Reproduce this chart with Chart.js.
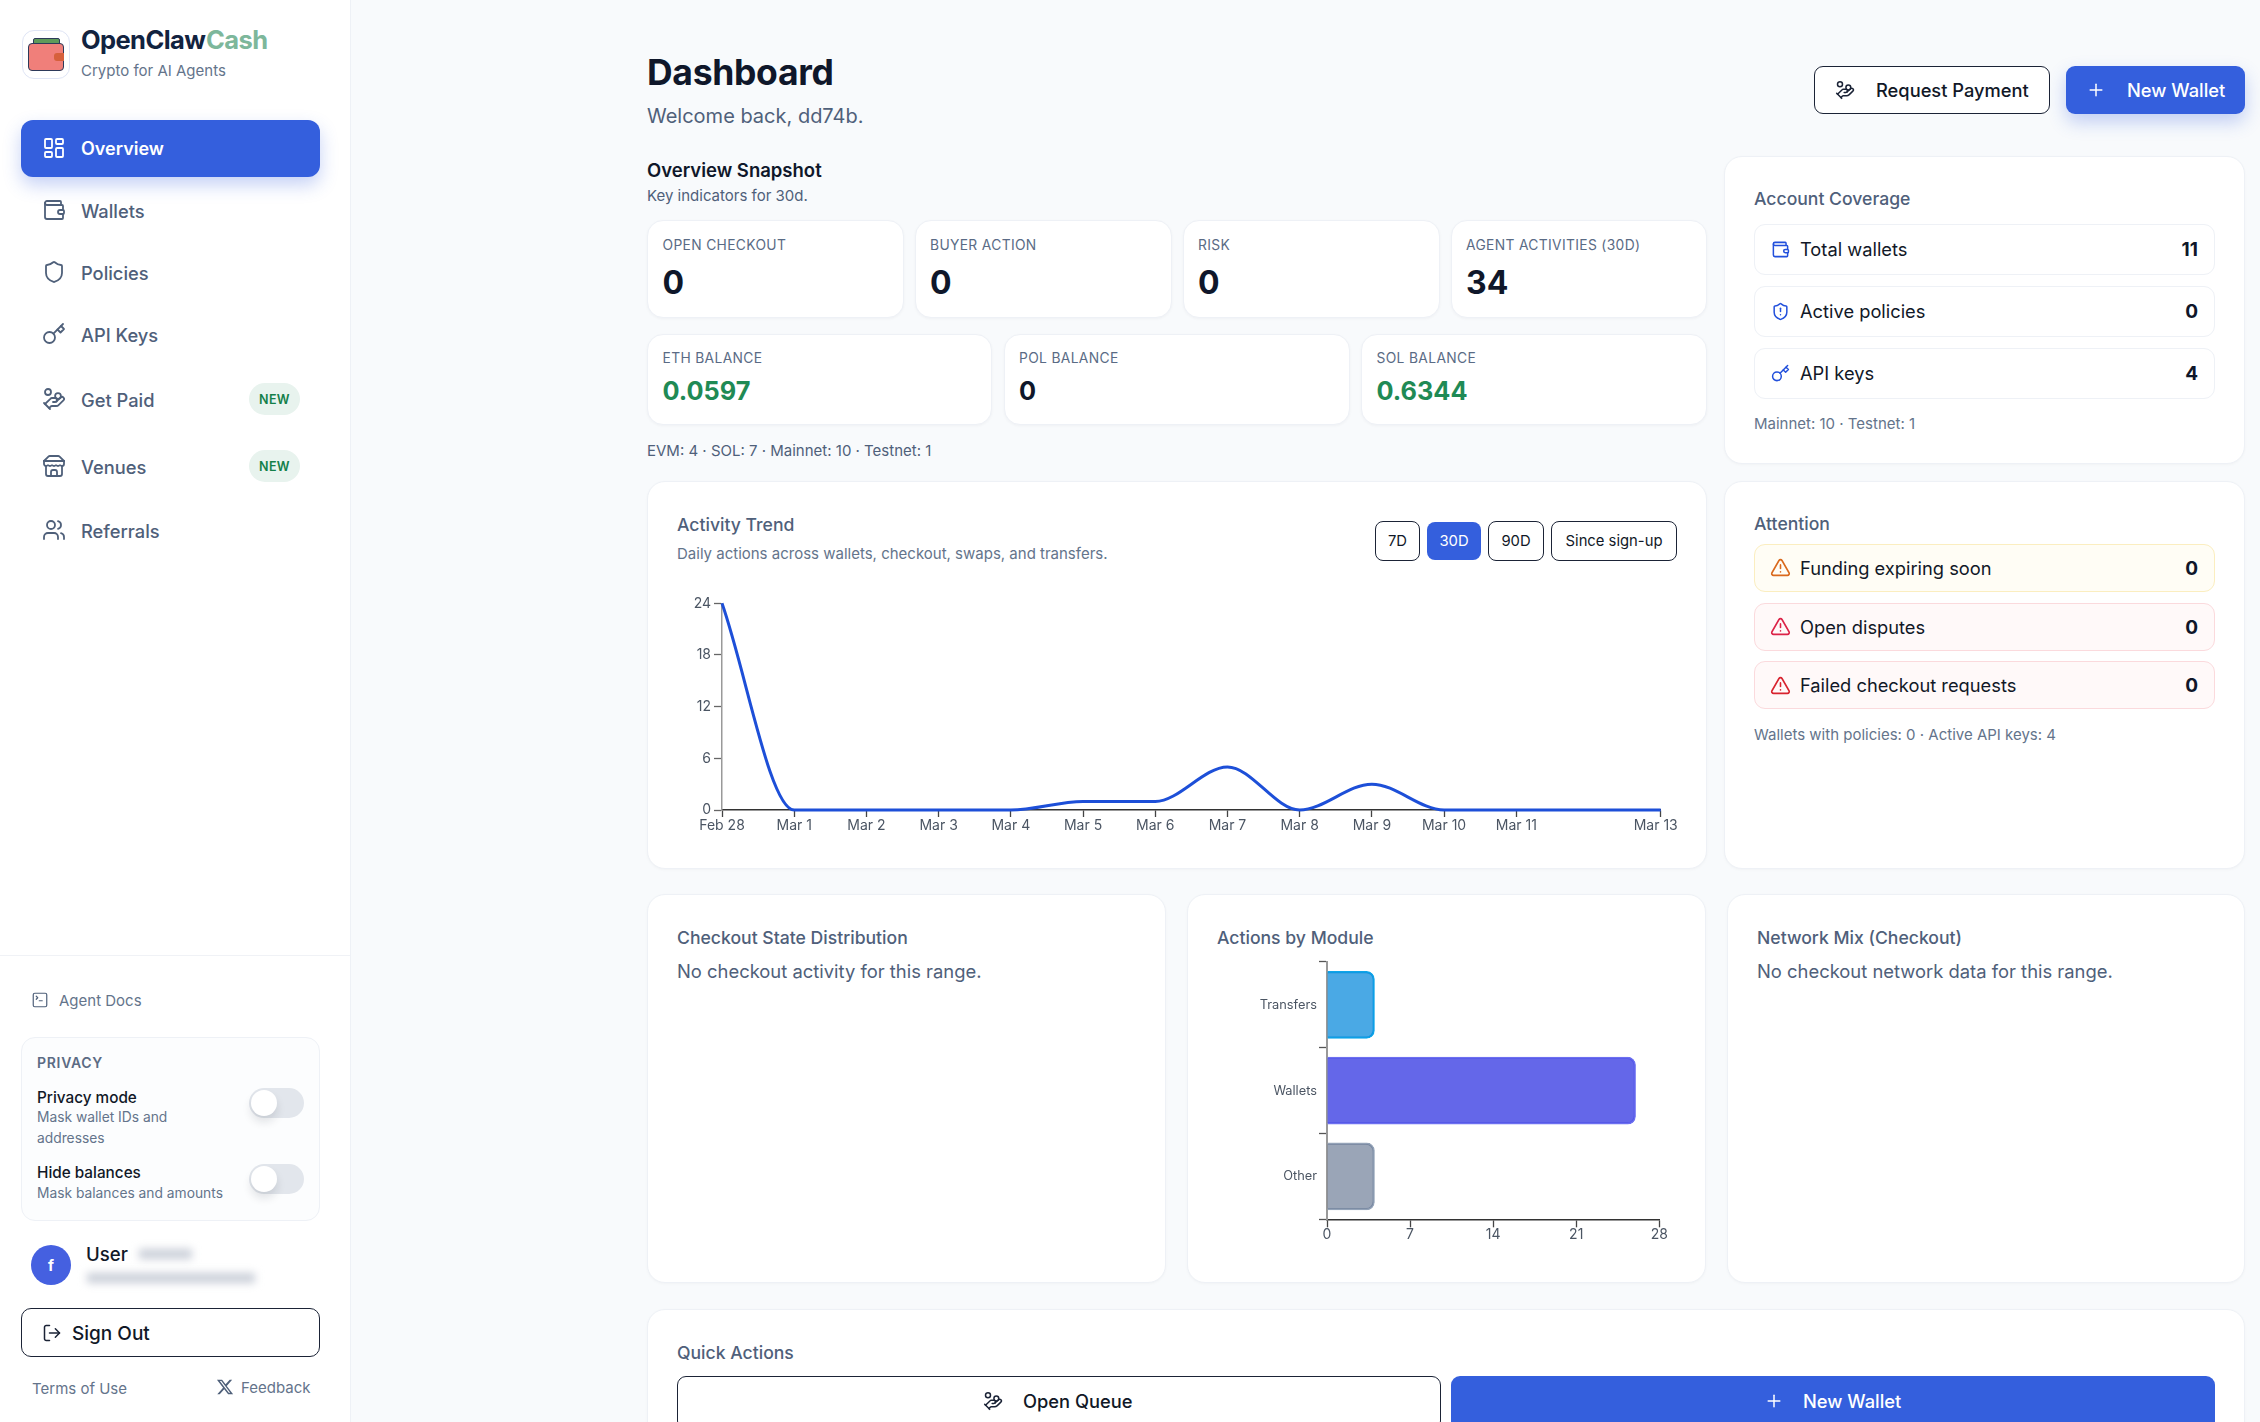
<!DOCTYPE html>
<html lang="en">
<head>
<meta charset="utf-8">
<title>OpenClawCash Dashboard</title>
<script src="https://cdn.jsdelivr.net/npm/chart.js@4"></script>
<style>
  html, body { margin: 0; width: 2260px; height: 1422px; overflow: hidden; background: #f8fafc; font-family: Inter, "Noto Sans", sans-serif; color: #0f172a; }
  #root { position: relative; width: 2260px; height: 1422px; overflow: hidden; }
  .box { position: absolute; box-sizing: border-box; }
  .txt { position: absolute; white-space: nowrap; line-height: 1; transform: translateY(-50%); }
  .card { background: #fff; border: 1.5px solid #eef1f6; border-radius: 18px; box-shadow: 0 1px 3px rgba(15,23,42,.03); }
  .tile { background: #fff; border: 1.5px solid #eef1f6; border-radius: 16px; box-shadow: 0 1px 3px rgba(15,23,42,.04); }
  svg.ic { position: absolute; fill: none; stroke-width: 2; stroke-linecap: round; stroke-linejoin: round; }
  canvas { position: absolute; }
</style>
</head>
<body>
<div id="root"></div>
<script>
// Activity Trend
const trendDays   = [0, 1, 2, 3, 4, 5, 6, 7, 8, 9, 10, 11, 13];
const trendValues = [24, 0, 0, 0, 0, 1, 1, 5, 0, 3, 0, 0, 0];
const trendLabels = ['Feb 28', 'Mar 1', 'Mar 2', 'Mar 3', 'Mar 4', 'Mar 5', 'Mar 6', 'Mar 7', 'Mar 8', 'Mar 9', 'Mar 10', 'Mar 11', 'Mar 13'];
const trendYTicks = [0, 6, 12, 18, 24];

// Actions by Module
const moduleNames  = ['Transfers', 'Wallets', 'Other'];
const moduleValues = [4, 26, 4];
const moduleXTicks = [0, 7, 14, 21, 28];

const ICONS = {
  dash: '<rect x="3" y="3" width="7" height="9" rx="1"/><rect x="14" y="3" width="7" height="5" rx="1"/><rect x="14" y="12" width="7" height="9" rx="1"/><rect x="3" y="16" width="7" height="5" rx="1"/>',
  wallet: '<path d="M19 7V4a1 1 0 0 0-1-1H5a2 2 0 0 0 0 4h15a1 1 0 0 1 1 1v4h-3a2 2 0 0 0 0 4h3a1 1 0 0 0 1-1v-2a1 1 0 0 0-1-1"/><path d="M3 5v14a2 2 0 0 0 2 2h15a1 1 0 0 0 1-1v-4"/>',
  shield: '<path d="M20 13c0 5-3.5 7.5-7.66 8.95a1 1 0 0 1-.67-.01C7.5 20.5 4 18 4 13V6a1 1 0 0 1 1-1c2 0 4.5-1.2 6.24-2.72a1.17 1.17 0 0 1 1.52 0C14.51 3.81 17 5 19 5a1 1 0 0 1 1 1z"/>',
  shieldAlert: '<path d="M20 13c0 5-3.5 7.5-7.66 8.95a1 1 0 0 1-.67-.01C7.5 20.5 4 18 4 13V6a1 1 0 0 1 1-1c2 0 4.5-1.2 6.24-2.72a1.17 1.17 0 0 1 1.52 0C14.51 3.81 17 5 19 5a1 1 0 0 1 1 1z"/><path d="M12 8v4"/><path d="M12 16h.01"/>',
  key: '<circle cx="7.5" cy="15.5" r="5.5"/><path d="m21 2-9.6 9.6"/><path d="m15.5 7.5 3 3L22 7l-3-3"/>',
  coins: '<path d="M11 15h2a2 2 0 1 0 0-4h-3c-.6 0-1.1.2-1.4.6L3 17"/><path d="m7 21 1.6-1.4c.3-.4.8-.6 1.4-.6h4c1.1 0 2.1-.4 2.8-1.2l4.6-4.4a2 2 0 0 0-2.75-2.91l-4.2 3.9"/><path d="m2 16 6 6"/><circle cx="16" cy="9" r="2.9"/><circle cx="6" cy="5" r="3"/>',
  store: '<path d="m2 7 4.41-4.41A2 2 0 0 1 7.83 2h8.34a2 2 0 0 1 1.42.59L22 7"/><path d="M4 12v8a2 2 0 0 0 2 2h12a2 2 0 0 0 2-2v-8"/><path d="M15 22v-4a2 2 0 0 0-2-2h-2a2 2 0 0 0-2 2v4"/><path d="M2 7h20"/><path d="M22 7v3a2 2 0 0 1-2 2a2.7 2.7 0 0 1-1.59-.63.7.7 0 0 0-.82 0A2.7 2.7 0 0 1 16 12a2.7 2.7 0 0 1-1.59-.63.7.7 0 0 0-.82 0A2.7 2.7 0 0 1 12 12a2.7 2.7 0 0 1-1.59-.63.7.7 0 0 0-.82 0A2.7 2.7 0 0 1 8 12a2.7 2.7 0 0 1-1.59-.63.7.7 0 0 0-.82 0A2.7 2.7 0 0 1 4 12a2 2 0 0 1-2-2V7"/>',
  users: '<path d="M16 21v-2a4 4 0 0 0-4-4H6a4 4 0 0 0-4 4v2"/><circle cx="9" cy="7" r="4"/><path d="M22 21v-2a4 4 0 0 0-3-3.87"/><path d="M16 3.13a4 4 0 0 1 0 7.75"/>',
  term: '<path d="m7 11 2-2-2-2"/><path d="M11 13h4"/><rect x="3" y="3" width="18" height="18" rx="2"/>',
  logout: '<path d="M9 21H5a2 2 0 0 1-2-2V5a2 2 0 0 1 2-2h4"/><path d="m16 17 5-5-5-5"/><path d="M21 12H9"/>',
  plus: '<path d="M5 12h14"/><path d="M12 5v14"/>',
  warn: '<path d="m21.73 18-8-14a2 2 0 0 0-3.48 0l-8 14A2 2 0 0 0 4 21h16a2 2 0 0 0 1.73-3"/><path d="M12 9v4"/><path d="M12 17h.01"/>',
};

const root = document.getElementById('root');

/** Caja absoluta: coordenadas de los bordes (x0,y0)-(x1,y1). */
function box(x0, y0, x1, y1, cls, css) {
  const el = document.createElement('div');
  el.className = 'box ' + (cls || '');
  el.style.cssText = `left:${x0}px;top:${y0}px;width:${x1 - x0}px;height:${y1 - y0}px;${css || ''}`;
  root.appendChild(el);
  return el;
}

/** Texto con anclaje a la izquierda (o a la derecha con right:true), centrado en yc. */
function text(x, yc, str, size, color, weight, extra, right) {
  const el = document.createElement('div');
  el.className = 'txt';
  el.textContent = str;
  const pos = right ? `right:${2260 - x}px` : `left:${x}px`;
  el.style.cssText = `${pos};top:${yc}px;font-size:${size}px;color:${color};font-weight:${weight || 400};${extra || ''}`;
  root.appendChild(el);
  return el;
}

function icon(name, cx, cy, size, color, sw) {
  const s = document.createElementNS('http://www.w3.org/2000/svg', 'svg');
  s.setAttribute('viewBox', '0 0 24 24');
  s.setAttribute('class', 'ic');
  s.style.cssText = `left:${cx - size / 2}px;top:${cy - size / 2}px;width:${size}px;height:${size}px;stroke:${color};stroke-width:${sw || 2}`;
  s.innerHTML = ICONS[name];
  root.appendChild(s);
}

const SLATE = '#4f607a', MUTED = '#64748b', INK = '#111827', BLUE = '#345fdd';

// ---- Sidebar ----
box(0, 0, 351, 1422, '', 'background:#fff;border-right:1.5px solid #eef1f6');
box(0, 955, 350, 956, '', 'background:#f0f2f6');

// Logo
box(22, 30, 70, 79, '', 'background:#fff;border:1.5px solid #dfe5f5;border-radius:12px');
box(33, 38, 60, 50, '', 'background:#5f9a5a;border:1.5px solid #2d3a5a;border-radius:2px');
box(28, 43, 64, 71, '', 'background:#f07f7a;border:1.5px solid #2d3a5a;border-radius:4px');
box(54, 53, 64, 61, '', 'background:#d6603c;border-radius:3px 0 0 3px');
text(81, 40, 'OpenClaw', 25.5, '#12233f', 700, 'letter-spacing:-.6px');
text(206, 40, 'Cash', 25.5, '#7db79b', 700, 'letter-spacing:-.6px');
text(81, 70, 'Crypto for AI Agents', 15, MUTED, 400);

box(21, 120, 320, 177, '', `background:${BLUE};border-radius:12px;box-shadow:0 8px 18px rgba(52,95,221,.28)`);
icon('dash', 54, 148, 24, '#fff', 1.8);
text(81, 148.5, 'Overview', 18, '#fff', 600);

[['wallet', 'Wallets', 210], ['shield', 'Policies', 272], ['key', 'API Keys', 334], ['coins', 'Get Paid', 399], ['store', 'Venues', 466], ['users', 'Referrals', 530]]
  .forEach(([ic, label, y]) => {
    icon(ic, 54, y, 24, '#4f607a', 1.8);
    text(81, y + 0.5, label, 18.3, SLATE, 500);
  });
[399, 466].forEach((y) => {
  box(249, y - 16, 300, y + 16, '', 'background:#e8f3ee;border-radius:16px');
  text(274.5, y + 1, 'NEW', 12.5, '#14804a', 600, 'transform:translate(-50%,-50%);letter-spacing:.4px');
});

icon('term', 39.5, 1000, 18, '#4f607a', 1.6);
text(59, 1000, 'Agent Docs', 15, MUTED, 400);

box(21, 1037, 320, 1221, '', 'background:#fcfdfe;border:1.5px solid #eef1f6;border-radius:14px');
text(37, 1063, 'PRIVACY', 14, '#5b6b84', 600, 'letter-spacing:.7px');
text(37, 1098, 'Privacy mode', 15.3, INK, 500);
text(37, 1118, 'Mask wallet IDs and', 13.8, MUTED, 400);
text(37, 1139, 'addresses', 13.8, MUTED, 400);
text(37, 1173, 'Hide balances', 15.3, INK, 500);
text(37, 1194, 'Mask balances and amounts', 13.8, MUTED, 400);
[1088, 1164].forEach((y) => {
  box(249, y, 304, y + 30, '', 'background:#e2e6ec;border-radius:15px');
  box(251, y + 2, 277, y + 28, '', 'background:#fff;border-radius:50%;box-shadow:0 6px 10px rgba(15,23,42,.12)');
});

box(31, 1245, 71, 1285, '', 'background:#4560e0;border-radius:50%');
text(51, 1265, 'f', 15, '#fff', 700, 'transform:translate(-50%,-50%)');
text(86, 1254, 'User', 18.6, INK, 500);
// Datos personales difuminados en la captura
box(139, 1249, 192, 1259, '', 'background:#c9ced8;filter:blur(4px)');
box(87, 1273, 255, 1283, '', 'background:#c9ced8;filter:blur(4px)');

box(21, 1308, 320, 1357, '', 'background:#fff;border:1.5px solid #1b2336;border-radius:10px');
icon('logout', 52, 1333, 20, '#1b2336', 1.8);
text(72, 1333, 'Sign Out', 19, INK, 500);
text(32, 1388, 'Terms of Use', 15, MUTED, 400);
const xLogo = document.createElementNS('http://www.w3.org/2000/svg', 'svg');
xLogo.setAttribute('viewBox', '0 0 24 24');
xLogo.style.cssText = 'position:absolute;left:216px;top:1378px;width:18px;height:18px;fill:#4f607a';
xLogo.innerHTML = '<path d="M18.244 2.25h3.308l-7.227 8.26 8.502 11.24H16.17l-5.214-6.817L4.99 21.75H1.68l7.73-8.835L1.254 2.25H8.08l4.713 6.231zm-1.161 17.52h1.833L7.084 4.126H5.117z"/>';
root.appendChild(xLogo);
text(241, 1387, 'Feedback', 15, MUTED, 400);

// ---- Header ----
text(647, 73, 'Dashboard', 35.5, '#0f172a', 700, 'letter-spacing:-.3px');
text(647, 115.5, 'Welcome back, dd74b.', 20, SLATE, 400);
box(1814, 66, 2050, 114, '', 'background:#fff;border:1.5px solid #1b2336;border-radius:9px');
icon('coins', 1845, 90, 20, '#1b2336', 1.8);
text(1876, 90, 'Request Payment', 18.3, INK, 500);
box(2066, 66, 2245, 114, '', `background:${BLUE};border-radius:9px;box-shadow:0 8px 18px rgba(52,95,221,.28)`);
icon('plus', 2096, 90, 20, '#fff', 1.8);
text(2127, 90, 'New Wallet', 18.3, '#fff', 500);

// ---- Overview Snapshot ----
text(647, 170, 'Overview Snapshot', 18.5, '#0f172a', 600);
text(647, 195, 'Key indicators for 30d.', 15, SLATE, 400);
[[647, 903.5, 'OPEN CHECKOUT', '0'], [914.5, 1172, 'BUYER ACTION', '0'], [1182.5, 1440, 'RISK', '0'], [1450.5, 1707, 'AGENT ACTIVITIES (30D)', '34']]
  .forEach(([x0, x1, label, val]) => {
    box(x0, 220, x1, 317.5, 'tile');
    text(x0 + 15.5, 246, label, 13.8, '#5a6b85', 400, 'letter-spacing:.35px');
    text(x0 + 15.5, 283, val, 32, '#0f172a', 700);
  });
[[647, 992, 'ETH BALANCE', '0.0597', '#1f8a55'], [1003.5, 1350, 'POL BALANCE', '0', '#0f172a'], [1361, 1707, 'SOL BALANCE', '0.6344', '#1f8a55']]
  .forEach(([x0, x1, label, val, col]) => {
    box(x0, 333.5, x1, 424.5, 'tile');
    text(x0 + 15.5, 359, label, 13.8, '#5a6b85', 400, 'letter-spacing:.35px');
    text(x0 + 15.5, 391, val, 25.3, col, 700);
  });
text(647, 450, 'EVM: 4 · SOL: 7 · Mainnet: 10 · Testnet: 1', 15, SLATE, 400);

// ---- Account Coverage ----
box(1723.5, 155.5, 2245, 464, 'card');
text(1754, 199, 'Account Coverage', 17.6, SLATE, 500);
[['wallet', 'Total wallets', '11', 223.5], ['shieldAlert', 'Active policies', '0', 285.5], ['key', 'API keys', '4', 347.5]]
  .forEach(([ic, label, val, y]) => {
    box(1754, y, 2215, y + 51, '', 'background:#fff;border:1.5px solid #eef1f6;border-radius:11px');
    icon(ic, 1780, y + 25.5, 19, '#2250dc', 1.9);
    text(1800, y + 25.5, label, 18.3, INK, 400);
    text(2198, y + 25.5, val, 19, '#0f172a', 700, '', true);
  });
text(1754, 423, 'Mainnet: 10 · Testnet: 1', 15, MUTED, 400);

// ---- Attention ----
box(1723.5, 481, 2245, 869, 'card');
text(1754, 524, 'Attention', 17.6, SLATE, 500);
[['Funding expiring soon', 543.5, '#fffdf5', '#fbeec0', '#d9691c'], ['Open disputes', 602.5, '#fff9f9', '#fbdadd', '#dc2348'], ['Failed checkout requests', 661, '#fff9f9', '#fbdadd', '#d8232f']]
  .forEach(([label, y, bg, border, col]) => {
    box(1754, y, 2215, y + 48, '', `background:${bg};border:1.5px solid ${border};border-radius:11px`);
    icon('warn', 1780, y + 24, 21, col, 1.8);
    text(1800, y + 24, label, 18.3, INK, 400);
    text(2198, y + 24, '0', 19, '#0f172a', 700, '', true);
  });
text(1754, 734, 'Wallets with policies: 0 · Active API keys: 4', 15, MUTED, 400);

// ---- Activity Trend card ----
box(647, 481, 1707, 869, 'card');
text(677, 524.5, 'Activity Trend', 17.6, SLATE, 500);
text(677, 553, 'Daily actions across wallets, checkout, swaps, and transfers.', 15, MUTED, 400);
[[1375, 1420, '7D'], [1427, 1481, '30D'], [1488, 1544, '90D'], [1551, 1677, 'Since sign-up']].forEach(([x0, x1, label]) => {
  const on = label === '30D';
  box(x0, on ? 522 : 521, x1, on ? 560 : 561, '', on ? `background:${BLUE};border-radius:8px` : 'background:#fff;border:1.5px solid #1b2336;border-radius:8px');
  text((x0 + x1) / 2, 541, label, 14.8, on ? '#fff' : INK, 400, 'transform:translate(-50%,-50%)');
});

// ---- Checkout / Module / Network cards ----
box(647, 894, 1165.5, 1283, 'card');
text(677, 938, 'Checkout State Distribution', 17.6, SLATE, 500);
text(677, 971, 'No checkout activity for this range.', 18.4, SLATE, 400);
box(1186.5, 894, 1705.5, 1283, 'card');
text(1217, 938, 'Actions by Module', 17.6, SLATE, 500);
box(1726.5, 894, 2245, 1283, 'card');
text(1757, 938, 'Network Mix (Checkout)', 17.6, SLATE, 500);
text(1757, 971, 'No checkout network data for this range.', 18.4, SLATE, 400);

// ---- Quick Actions ----
box(647, 1309, 2245, 1440, 'card');
text(677, 1353, 'Quick Actions', 17.6, SLATE, 500);
box(677, 1376, 1441, 1430, '', 'background:#fff;border:1.5px solid #1b2336;border-radius:9px');
icon('coins', 993, 1401, 20, '#1b2336', 1.8);
text(1023, 1401, 'Open Queue', 18.3, INK, 500);
box(1451, 1376, 2215, 1430, '', `background:${BLUE};border-radius:9px`);
icon('plus', 1774, 1401, 20, '#fff', 1.8);
text(1803, 1401, 'New Wallet', 18.3, '#fff', 500);

function makeCanvas(id, x, y, w, h) {
  const c = document.createElement('canvas');
  c.id = id;
  c.width = w;
  c.height = h;
  c.style.cssText = `left:${x}px;top:${y}px;width:${w}px;height:${h}px`;
  root.appendChild(c);
  return c;
}

const tickFont = { family: 'Inter', size: 14 };

// La última etiqueta del eje X va un poco desplazada a la izquierda en la referencia
const nudgeLastLabel = {
  id: 'nudgeLastLabel',
  beforeDraw(chart) {
    const items = chart.scales.x.getLabelItems();
    const last = items[items.length - 1];
    if (last && !last.nudged) {
      last.options.translation[0] -= 5;
      last.nudged = true;
    }
  },
};

new Chart(makeCanvas('chart-trend', 660, 590, 1030, 260), {
  type: 'line',
  plugins: [nudgeLastLabel],
  data: {
    datasets: [{
      data: trendDays.map((d, i) => ({ x: d, y: trendValues[i] })),
      borderColor: '#1d4fd8',
      borderWidth: 3,
      pointRadius: 0,
      fill: false,
      cubicInterpolationMode: 'monotone',
      clip: false,
    }],
  },
  options: {
    responsive: false,
    animation: false,
    layout: { padding: { top: 13.3, right: 29.3 } },
    plugins: { legend: { display: false }, tooltip: { enabled: false } },
    scales: {
      x: {
        type: 'linear',
        min: trendDays[0],
        max: trendDays[trendDays.length - 1],
        afterBuildTicks: (axis) => { axis.ticks = trendDays.map((d) => ({ value: d })); },
        afterFit: (axis) => { axis.height = 40; },
        ticks: {
          autoSkip: false,
          maxRotation: 0,
          color: '#4b5563',
          font: tickFont,
          padding: 0,
          callback: (v) => trendLabels[trendDays.indexOf(v)],
        },
        grid: { drawOnChartArea: false, tickLength: 7, tickColor: '#444', tickWidth: 1.3 },
        border: { color: '#333', width: 1.5 },
      },
      y: {
        min: 0,
        max: 24,
        afterBuildTicks: (axis) => { axis.ticks = trendYTicks.map((v) => ({ value: v })); },
        afterFit: (axis) => { axis.width = 62; },
        ticks: { color: '#4b5563', font: tickFont, padding: 3 },
        grid: { drawOnChartArea: false, tickLength: 8, tickColor: '#666', tickWidth: 1.3 },
        border: { color: '#999', width: 1.5 },
      },
    },
  },
});

new Chart(makeCanvas('chart-modules', 1200, 950, 490, 310), {
  type: 'bar',
  data: {
    labels: moduleNames,
    datasets: [{
      data: moduleValues,
      backgroundColor: ['rgba(14,140,220,.75)', 'rgba(79,82,230,.88)', 'rgba(100,116,145,.65)'],
      borderColor: ['#0ea5e9', '#6d70f0', '#94a3b8'],
      borderWidth: 1.5,
      borderRadius: 8,
      borderSkipped: 'left',
      barThickness: 67,
    }],
  },
  options: {
    indexAxis: 'y',
    responsive: false,
    animation: false,
    layout: { padding: { top: 12, right: 30.7 } },
    plugins: { legend: { display: false }, tooltip: { enabled: false } },
    scales: {
      x: {
        min: 0,
        max: 28,
        afterBuildTicks: (axis) => { axis.ticks = moduleXTicks.map((v) => ({ value: v })); },
        afterFit: (axis) => { axis.height = 40.7; },
        ticks: { color: '#4b5563', font: tickFont, padding: -1 },
        grid: { drawOnChartArea: false, tickLength: 8, tickColor: '#444', tickWidth: 1.3 },
        border: { color: '#333', width: 1.5 },
      },
      y: {
        afterFit: (axis) => { axis.width = 127; },
        ticks: { color: '#4b5563', font: { family: 'Inter', size: 12.8 }, padding: 2 },
        grid: { drawOnChartArea: false, tickLength: 8, tickColor: '#555', tickWidth: 1.3 },
        border: { color: '#999', width: 2 },
      },
    },
  },
});
</script>
</body>
</html>
